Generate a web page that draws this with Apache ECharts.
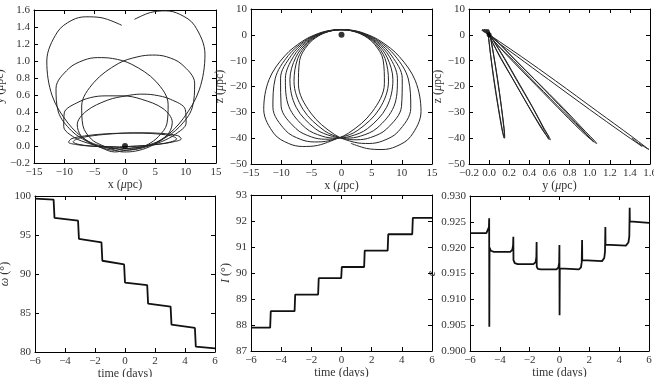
<!DOCTYPE html>
<html>
<head>
<meta charset="utf-8">
<script src="https://cdn.jsdelivr.net/npm/echarts@6/dist/echarts.min.js"></script>
<style>
html, body { margin: 0; padding: 0; background: #fff; }
#container { width: 654px; height: 377px; }
</style>
</head>
<body>
<div id="container"></div>
<script>
// trajectory, one array per orbit: [x, y, z] in micro-parsec
var orbit1 = [
  [-0.54, 1.42, -39.93], [-3.95, 1.51, -42.81], [-6.46, 1.52, -43.22], [-8.74, 1.48, -42.09],
  [-11.15, 1.34, -38.34], [-12.89, 1.00, -28.92], [-12.00, 0.59, -17.28], [-9.40, 0.27, -8.13],
  [-6.44, 0.07, -2.43], [-3.93, -0.02, 0.45], [-1.70, -0.07, 1.77]
];
var orbit2 = [
  [0.22, -0.05, 1.99], [2.05, -0.03, 1.31], [3.83, 0.02, -0.47], [5.50, 0.11, -3.73],
  [6.90, 0.26, -9.73], [7.11, 0.49, -18.83], [5.09, 0.76, -29.81], [1.13, 0.96, -38.10],
  [-2.08, 1.03, -40.98], [-4.50, 1.04, -41.46], [-6.77, 1.01, -40.47], [-9.29, 0.91, -36.97],
  [-11.37, 0.68, -28.02], [-10.98, 0.40, -16.86], [-8.83, 0.18, -8.02], [-6.17, 0.05, -2.46],
  [-3.84, -0.02, 0.37], [-1.72, -0.05, 1.72]
];
var orbit3 = [
  [0.13, -0.03, 2.00], [1.97, -0.02, 1.40], [3.80, 0.01, -0.24], [5.58, 0.06, -3.35],
  [7.21, 0.15, -9.13], [7.79, 0.28, -17.96], [6.27, 0.44, -28.71], [2.72, 0.55, -36.92],
  [-0.31, 0.59, -39.85], [-2.69, 0.59, -40.41], [-4.96, 0.58, -39.54], [-7.58, 0.52, -36.24],
  [-10.01, 0.39, -27.63], [-10.10, 0.23, -16.77], [-8.35, 0.10, -8.09], [-5.97, 0.03, -2.58],
  [-3.79, -0.01, 0.26], [-1.77, -0.03, 1.65]
];
var orbit4 = [
  [0.05, -0.008, 2.00], [1.89, -0.002, 1.50], [3.78, 0.008, -0.06], [5.68, 0.023, -3.04],
  [7.55, 0.048, -8.67], [8.52, 0.083, -17.37], [7.47, 0.122, -28.05], [4.31, 0.147, -36.31],
  [1.42, 0.152, -39.32], [-0.91, 0.150, -39.99], [-3.21, 0.143, -39.22], [-5.95, 0.125, -36.07],
  [-8.74, 0.088, -27.68], [-9.30, 0.045, -16.96], [-7.94, 0.016, -8.32], [-5.81, -0.001, -2.78],
  [-3.78, -0.008, 0.12], [-1.82, -0.010, 1.58]
];
var orbit5 = [
  [-0.04, -0.008, 2.00], [1.83, -0.002, 1.58], [3.78, 0.008, 0.11], [5.81, 0.023, -2.79],
  [7.92, 0.048, -8.34], [9.27, 0.084, -16.98], [8.69, 0.122, -27.70], [5.89, 0.149, -36.09],
  [3.14, 0.155, -39.22], [0.84, 0.154, -39.99], [-1.49, 0.146, -39.32], [-4.37, 0.129, -36.30],
  [-7.52, 0.092, -28.03], [-8.55, 0.049, -17.35], [-7.57, 0.018, -8.66], [-5.69, 0.001, -3.03],
  [-3.78, -0.008, -0.05], [-1.89, -0.010, 1.50]
];
var orbit6 = [
  [-0.13, -0.03, 2.00], [1.78, -0.02, 1.65], [3.81, 0.00, 0.24], [5.98, 0.05, -2.63],
  [8.34, 0.14, -8.17], [10.07, 0.27, -16.89], [9.94, 0.43, -27.80], [7.48, 0.55, -36.44],
  [4.84, 0.60, -39.74], [2.56, 0.61, -40.62], [0.18, 0.59, -40.04], [-2.85, 0.54, -37.09],
  [-6.38, 0.41, -28.83], [-7.87, 0.25, -18.02], [-7.25, 0.12, -9.15], [-5.60, 0.04, -3.36],
  [-3.81, 0.00, -0.24], [-1.97, -0.02, 1.41]
];
var orbit7 = [
  [-0.22, -0.05, 1.99], [1.74, -0.04, 1.72], [3.87, 0.00, 0.34], [6.22, 0.08, -2.52],
  [8.90, 0.22, -8.17], [11.08, 0.45, -17.12], [11.48, 0.74, -28.44], [9.38, 0.96, -37.51],
  [6.85, 1.05, -41.05], [4.57, 1.07, -42.06], [2.12, 1.05, -41.57], [-1.11, 0.97, -38.65],
  [-5.10, 0.75, -30.24], [-7.14, 0.47, -19.10], [-6.94, 0.24, -9.89], [-5.54, 0.08, -3.80],
  [-3.86, 0.01, -0.50], [-2.07, -0.04, 1.31]
];
var orbit8 = [
  [-0.30, -0.07, 1.98], [1.73, -0.06, 1.77], [3.99, -0.01, 0.40], [6.55, 0.10, -2.54],
  [9.57, 0.32, -8.39], [12.24, 0.66, -17.78], [13.18, 1.08, -29.73], [11.45, 1.42, -39.39],
  [9.02, 1.55, -43.24], [6.71, 1.59, -44.40], [4.17, 1.57, -43.97], [1.56, 1.49, -42.00]
];

// orbital elements against time (days)
var omegaPts = [
  [-6, 99.66], [-4.76, 99.53], [-4.73, 99.3], [-4.70, 97.2], [-4.66, 97.09], [-3.13, 96.83],
  [-3.10, 96.6], [-3.07, 94.5], [-3.03, 94.35], [-1.57, 94.05], [-1.54, 93.8], [-1.51, 91.7],
  [-1.47, 91.52], [-0.06, 91.22], [-0.03, 91.0], [0.0, 88.9], [0.04, 88.78], [1.48, 88.57],
  [1.51, 88.35], [1.54, 86.2], [1.58, 86.08], [3.04, 85.82], [3.07, 85.6], [3.10, 83.5],
  [3.14, 83.38], [4.66, 83.08], [4.69, 82.85], [4.72, 80.7], [4.76, 80.6], [6, 80.47]
];
var incPts = [
  [-6, 87.9], [-4.73, 87.9], [-4.69, 88.53], [-3.11, 88.53], [-3.07, 89.17], [-1.55, 89.17],
  [-1.51, 89.8], [-0.02, 89.8], [0.02, 90.23], [1.50, 90.23], [1.54, 90.86], [3.06, 90.86],
  [3.10, 91.49], [4.69, 91.49], [4.73, 92.12], [6, 92.12]
];
var eccPts = [
  [-6, 0.9228], [-4.9, 0.9228], [-4.78, 0.9231], [-4.73, 0.9240], [-4.715, 0.9257], [-4.705, 0.9047],
  [-4.69, 0.9200], [-4.6, 0.9194], [-4.4, 0.9192], [-3.3, 0.9192], [-3.16, 0.9196], [-3.11, 0.9205],
  [-3.095, 0.9221], [-3.085, 0.9176], [-3.0, 0.9170], [-2.8, 0.9168], [-1.75, 0.9168], [-1.6, 0.9172],
  [-1.55, 0.9182], [-1.535, 0.9211], [-1.525, 0.9163], [-1.45, 0.9159], [-1.25, 0.9158], [-0.2, 0.9158],
  [-0.07, 0.9162], [-0.02, 0.9172], [-0.005, 0.9205], [0.005, 0.9069], [0.02, 0.9160], [0.1, 0.9158],
  [1.3, 0.9158], [1.44, 0.9162], [1.49, 0.9172], [1.515, 0.9215], [1.525, 0.9176], [1.6, 0.9173],
  [2.85, 0.9174], [3.0, 0.9180], [3.05, 0.9192], [3.075, 0.9240], [3.085, 0.9206], [3.18, 0.9203],
  [4.45, 0.9204], [4.62, 0.9210], [4.68, 0.9222], [4.705, 0.9277], [4.715, 0.9251], [4.8, 0.9248],
  [6, 0.9248]
];

var blackHole = [[0, 0]];

var FONT = "'Liberation Serif', 'DejaVu Serif', serif";
var traj = [].concat(orbit1, orbit2, orbit3, orbit4, orbit5, orbit6, orbit7, orbit8);
function pick(i, j) {
  return traj.map(function (p) { return [p[i], p[j]]; });
}

function fmt(dec) {
  return function (v) {
    if (Math.abs(v) < 1e-9) v = 0;
    return (v < 0 ? "\u2212" : "") + Math.abs(v).toFixed(dec);
  };
}

var nameStyle = {
  fontFamily: FONT, fontSize: 12, color: "#333",
  rich: { i: { fontFamily: FONT, fontSize: 12, color: "#333", fontStyle: "italic" } }
};

var grids = [
  { left: 34, top: 10, width: 182, height: 153 },
  { left: 251, top: 9, width: 181, height: 155 },
  { left: 469, top: 9, width: 181, height: 155 },
  { left: 35, top: 196, width: 180, height: 156 },
  { left: 251, top: 195, width: 181, height: 156 },
  { left: 470, top: 196, width: 179, height: 155 }
];
grids.forEach(function (g) { g.containLabel = false; g.outerBoundsMode = "none"; });

var xAxes = [], yAxes = [];
function addAxes(g, xr, yr) {
  // xr / yr: [min, max, step, decimals, name, nameGap]
  [0, 1].forEach(function (k) {
    xAxes.push({
      type: "value", gridIndex: g, min: xr[0], max: xr[1], interval: xr[2],
      position: k ? "top" : "bottom",
      axisLine: { onZero: false, lineStyle: { color: "#000", width: 1 } },
      axisTick: { inside: true, length: 4, lineStyle: { color: "#000" } },
      axisLabel: { show: !k, formatter: fmt(xr[3]), fontFamily: FONT, fontSize: 11, color: "#333", margin: 4 },
      splitLine: { show: false },
      name: k ? "" : xr[4], nameLocation: "middle", nameGap: xr[5], nameTextStyle: nameStyle
    });
    yAxes.push({
      type: "value", gridIndex: g, min: yr[0], max: yr[1], interval: yr[2],
      position: k ? "right" : "left",
      axisLine: { onZero: false, lineStyle: { color: "#000", width: 1 } },
      axisTick: { inside: true, length: 4, lineStyle: { color: "#000" } },
      axisLabel: { show: !k, formatter: fmt(yr[3]), fontFamily: FONT, fontSize: 11, color: "#333", margin: 4 },
      splitLine: { show: false },
      name: k ? "" : yr[4], nameLocation: "middle", nameGap: yr[5], nameTextStyle: nameStyle
    });
  });
}

addAxes(0, [-15, 15, 5, 0, "x ({i|\u03bc}pc)", 14], [-0.2, 1.6, 0.2, 1, "y ({i|\u03bc}pc)", 25]);
addAxes(1, [-15, 15, 5, 0, "x ({i|\u03bc}pc)", 14], [-50, 10, 10, 0, "z ({i|\u03bc}pc)", 25]);
addAxes(2, [-0.2, 1.6, 0.2, 1, "y ({i|\u03bc}pc)", 14], [-50, 10, 10, 0, "z ({i|\u03bc}pc)", 25]);
addAxes(3, [-6, 6, 2, 0, "time (days)", 15], [80, 100, 5, 0, "{i|\u03c9} (\u00b0)", 21]);
addAxes(4, [-6, 6, 2, 0, "time (days)", 15], [87, 93, 1, 0, "{i|I} (\u00b0)", 17]);
addAxes(5, [-6, 6, 2, 0, "time (days)", 15], [0.9, 0.93, 0.005, 3, "{i|e}", 31]);

function orbitLine(g, data) {
  return {
    type: "line", xAxisIndex: 2 * g, yAxisIndex: 2 * g, data: data,
    showSymbol: false, symbol: "none", smooth: 0.35, silent: true,
    lineStyle: { color: "#262626", width: 1 }
  };
}
function dot(g, size) {
  return {
    type: "scatter", xAxisIndex: 2 * g, yAxisIndex: 2 * g, data: blackHole,
    symbolSize: size, silent: true, itemStyle: { color: "#000" }, z: 5
  };
}
function elemLine(g, data) {
  return {
    type: "line", xAxisIndex: 2 * g, yAxisIndex: 2 * g, data: data,
    showSymbol: false, symbol: "none", silent: true,
    lineStyle: { color: "#111", width: 1.8 }
  };
}

var chart = echarts.init(document.getElementById("container"), null, { renderer: "canvas" });
chart.setOption({
  animation: false,
  backgroundColor: "#fff",
  textStyle: { fontFamily: FONT },
  grid: grids,
  xAxis: xAxes,
  yAxis: yAxes,
  series: [
    orbitLine(0, pick(0, 1)), dot(0, 6),
    orbitLine(1, pick(0, 2)), dot(1, 6),
    orbitLine(2, pick(1, 2)), dot(2, 5),
    elemLine(3, omegaPts),
    elemLine(4, incPts),
    elemLine(5, eccPts)
  ]
});
</script>
</body>
</html>
